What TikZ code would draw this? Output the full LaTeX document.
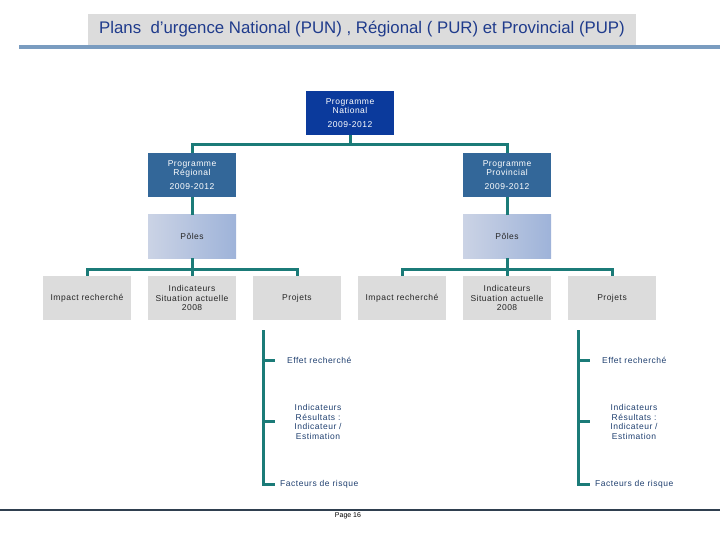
\documentclass[tikz,border=0pt]{standalone}
\usepackage{fontspec}
\setmainfont{Liberation Sans}
\newfontfamily\spaced[LetterSpace=6]{Liberation Sans}
\definecolor{conncol}{HTML}{1B7B78}
\definecolor{natcol}{HTML}{0B3A9C}
\definecolor{progcol}{HTML}{336799}
\definecolor{greycol}{HTML}{DCDCDC}
\definecolor{titlecol}{HTML}{1F3B8C}
\definecolor{rulecol}{HTML}{7A9CC0}
\definecolor{footcol}{HTML}{2F3F4F}
\definecolor{listcol}{HTML}{1F3F6F}
\definecolor{poleL}{HTML}{CBD3E5}
\definecolor{poleR}{HTML}{9EB3D9}
\begin{document}
\begin{tikzpicture}[x=1pt,y=-1pt,
  conn/.style={draw=conncol,line width=3pt},
  basebox/.style={minimum width=88pt,minimum height=44pt,inner sep=1pt,align=center,font=\spaced\fontsize{8.5}{9.5}\selectfont},
  natbox/.style={basebox,fill=natcol,text=white},
  progbox/.style={basebox,fill=progcol,text=white},
  polebox/.style={basebox,minimum height=43pt,left color=poleL,right color=poleR,text=black!85},
  greybox/.style={basebox,fill=greycol,text=black!85},
  listtext/.style={font=\spaced\fontsize{8.5}{9.8}\selectfont,text=listcol,inner sep=0pt,align=center}]
\useasboundingbox (0,0) rectangle (720,540);
% title
\node[fill=greycol,minimum width=548pt,minimum height=31pt,inner sep=0pt,
  font=\fontsize{16.8}{18}\selectfont,text=titlecol] (title) at (362,29.5)
  {Plans\ \ d’urgence National (PUN) , Régional ( PUR) et Provincial (PUP)};
\coordinate (ruleA) at (19,47);
\coordinate (ruleB) at (720,47);
\draw[draw=rulecol,line width=4pt] (ruleA) -- (ruleB);
% top
\node[natbox] (nat) at (350,113) {Programme\\National\\[4pt]2009-2012};
\node[progbox] (reg) at (192,175) {Programme\\Régional\\[4pt]2009-2012};
\node[progbox] (prov) at (507,175) {Programme\\Provincial\\[4pt]2009-2012};
\node[polebox] (polL) at (192,236.5) {Pôles};
\node[polebox] (polR) at (507,236.5) {Pôles};
% third level
\node[greybox] (impL) at (87,298) {Impact recherché};
\node[greybox] (indL) at (192,298) {Indicateurs\\Situation actuelle\\2008};
\node[greybox] (prjL) at (297,298) {Projets};
\node[greybox] (impR) at (402,298) {Impact recherché};
\node[greybox] (indR) at (507,298) {Indicateurs\\Situation actuelle\\2008};
\node[greybox] (prjR) at (612,298) {Projets};
% connectors
\draw[conn] (nat.south) -- ++(0,9) -| (reg.north);
\draw[conn] (nat.south) -- ++(0,9) -| (prov.north);
\draw[conn] (reg.south) -- (polL.north);
\draw[conn] (prov.south) -- (polR.north);
\draw[conn] (polL.south) -- ++(0,11) -| (impL.north);
\draw[conn] (polL.south) -- ++(0,11) -| (prjL.north);
\draw[conn] (polL.south) -- (indL.north);
\draw[conn] (polR.south) -- ++(0,11) -| (impR.north);
\draw[conn] (polR.south) -- ++(0,11) -| (prjR.north);
\draw[conn] (polR.south) -- (indR.north);
% left list
\coordinate (sL) at (263,330);
\coordinate (t1L) at (275,360);
\coordinate (t2L) at (275,421);
\coordinate (t3L) at (275,484);
\node[listtext,anchor=west] (effL) at (287,360) {Effet recherché};
\node[listtext] (resL) at (318,422) {Indicateurs\\Résultats :\\Indicateur /\\Estimation};
\node[listtext,anchor=west] (facL) at (280,484) {Facteurs de risque};
\draw[conn] (sL) |- (t3L);
\draw[conn] (sL |- t1L) -- (t1L);
\draw[conn] (sL |- t2L) -- (t2L);
% right list
\coordinate (sR) at (578,330);
\coordinate (t1R) at (590,360);
\coordinate (t2R) at (590,421);
\coordinate (t3R) at (590,484);
\node[listtext,anchor=west] (effR) at (602,360) {Effet recherché};
\node[listtext] (resR) at (634,422) {Indicateurs\\Résultats :\\Indicateur /\\Estimation};
\node[listtext,anchor=west] (facR) at (595,484) {Facteurs de risque};
\draw[conn] (sR) |- (t3R);
\draw[conn] (sR |- t1R) -- (t1R);
\draw[conn] (sR |- t2R) -- (t2R);
% footer
\coordinate (footA) at (0,510);
\coordinate (footB) at (720,510);
\draw[draw=footcol,line width=1.2pt] (footA) -- (footB);
\node[font=\fontsize{7}{8}\selectfont,inner sep=0pt] (page) at (348,516) {Page 16};
\end{tikzpicture}
\end{document}
